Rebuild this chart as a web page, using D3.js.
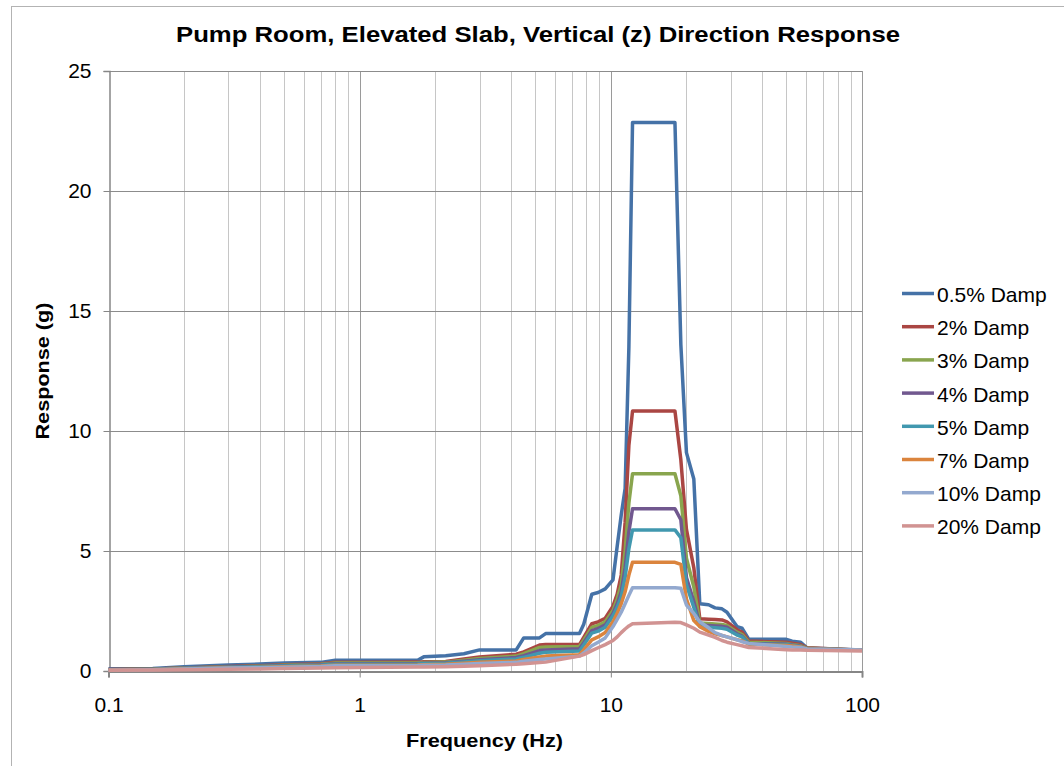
<!DOCTYPE html>
<html>
<head>
<meta charset="utf-8">
<script src="https://cdn.jsdelivr.net/npm/d3@7"></script>
<style>
  html, body { margin: 0; padding: 0; background: #ffffff; }
  svg { display: block; font-family: "Liberation Sans", Arial, sans-serif; }
</style>
</head>
<body>
<svg id="chart" width="1064" height="766"></svg>
<script>
// Frequency points (Hz), shared by all damping curves
const frequencies = [0.1, 0.15, 0.2, 0.3, 0.4, 0.5, 0.7, 0.8, 1.0, 1.7, 1.8, 2.2, 2.6, 3.0,
  4.2, 4.5, 5.2, 5.5, 7.5, 7.8, 8.4, 8.9, 9.5, 10.2, 10.6, 11.0, 11.4, 11.8, 12.2,
  18.0, 19.0, 20.0, 21.4, 22.6, 24.5, 26.0, 27.7, 29.0, 31.8, 33.3, 35.4, 50.0, 52.7, 57.0, 60.5, 100];

// Spectral acceleration (g) per damping ratio
const damp05 = [0.09, 0.10, 0.18, 0.25, 0.29, 0.33, 0.36, 0.45, 0.45, 0.45, 0.59, 0.64, 0.72, 0.88,
  0.88, 1.38, 1.38, 1.56, 1.56, 1.95, 3.20, 3.27, 3.42, 3.80, 5.20, 6.50, 7.60, 13.5, 22.85,
  22.85, 13.6, 9.10, 8.00, 2.80, 2.76, 2.63, 2.59, 2.45, 1.85, 1.78, 1.33, 1.32, 1.24, 1.20, 0.96, 0.87];
const damp2 = [0.06, 0.08, 0.13, 0.19, 0.22, 0.26, 0.30, 0.36, 0.36, 0.37, 0.39, 0.40, 0.50, 0.58,
  0.70, 0.80, 1.08, 1.10, 1.10, 1.40, 1.97, 2.05, 2.20, 2.70, 3.20, 4.00, 6.20, 9.40, 10.83,
  10.83, 8.80, 5.90, 4.30, 2.18, 2.16, 2.15, 2.13, 2.05, 1.72, 1.62, 1.25, 1.20, 1.16, 1.10, 0.97, 0.86];
const damp3 = [0.05, 0.07, 0.12, 0.17, 0.20, 0.24, 0.28, 0.33, 0.33, 0.34, 0.35, 0.37, 0.45, 0.52,
  0.62, 0.72, 0.98, 1.00, 1.02, 1.28, 1.82, 1.90, 2.05, 2.52, 3.00, 3.60, 5.00, 7.00, 8.22,
  8.22, 7.30, 4.70, 3.50, 2.00, 1.98, 1.96, 1.94, 1.90, 1.62, 1.52, 1.20, 1.15, 1.10, 1.05, 0.95, 0.86];
const damp4 = [0.05, 0.06, 0.11, 0.16, 0.19, 0.22, 0.26, 0.30, 0.30, 0.31, 0.32, 0.34, 0.41, 0.47,
  0.56, 0.64, 0.85, 0.88, 0.93, 1.18, 1.68, 1.77, 1.92, 2.40, 2.80, 3.30, 4.30, 5.80, 6.76,
  6.76, 6.30, 3.90, 2.90, 1.92, 1.90, 1.88, 1.86, 1.82, 1.55, 1.45, 1.15, 1.12, 1.08, 1.03, 0.93, 0.86];
const damp5 = [0.04, 0.06, 0.10, 0.15, 0.18, 0.21, 0.24, 0.28, 0.28, 0.29, 0.30, 0.32, 0.38, 0.43,
  0.50, 0.57, 0.74, 0.78, 0.83, 1.08, 1.58, 1.66, 1.82, 2.30, 2.65, 3.10, 3.90, 5.10, 5.88,
  5.88, 5.55, 3.60, 2.65, 1.85, 1.82, 1.80, 1.78, 1.74, 1.50, 1.42, 1.12, 1.10, 1.06, 1.02, 0.92, 0.86];
const damp7 = [0.04, 0.05, 0.09, 0.13, 0.15, 0.18, 0.21, 0.24, 0.24, 0.25, 0.26, 0.28, 0.32, 0.36,
  0.42, 0.48, 0.58, 0.62, 0.68, 0.88, 1.30, 1.42, 1.60, 2.05, 2.40, 2.80, 3.30, 4.00, 4.53,
  4.53, 4.44, 3.00, 2.10, 1.85, 1.65, 1.55, 1.48, 1.42, 1.30, 1.26, 1.12, 1.06, 1.04, 1.00, 0.92, 0.86];
const damp10 = [0.03, 0.05, 0.08, 0.12, 0.14, 0.16, 0.19, 0.22, 0.22, 0.23, 0.24, 0.25, 0.28, 0.31,
  0.36, 0.41, 0.48, 0.50, 0.62, 0.75, 1.05, 1.20, 1.38, 1.85, 2.15, 2.45, 2.80, 3.15, 3.47,
  3.47, 3.45, 2.75, 2.40, 2.05, 1.80, 1.60, 1.48, 1.42, 1.30, 1.22, 1.15, 1.02, 1.00, 0.98, 0.92, 0.88];
const damp20 = [0.03, 0.04, 0.05, 0.07, 0.08, 0.10, 0.12, 0.14, 0.15, 0.17, 0.17, 0.18, 0.20, 0.22,
  0.28, 0.30, 0.35, 0.37, 0.62, 0.68, 0.85, 0.97, 1.10, 1.27, 1.42, 1.60, 1.75, 1.88, 1.97,
  2.03, 2.02, 1.92, 1.78, 1.62, 1.50, 1.40, 1.27, 1.20, 1.10, 1.05, 0.98, 0.89, 0.88, 0.87, 0.86, 0.83];

const seriesNames = ["0.5% Damp", "2% Damp", "3% Damp", "4% Damp", "5% Damp", "7% Damp", "10% Damp", "20% Damp"];
const seriesValues = [damp05, damp2, damp3, damp4, damp5, damp7, damp10, damp20];
const seriesColors = ["#4572a7", "#aa4643", "#89a54e", "#71588f", "#4198af", "#db843d", "#93a9cf", "#d19392"];

const xTicks = [0.1, 1, 10, 100];
const xTickLabels = ["0.1", "1", "10", "100"];
const yTicks = [0, 5, 10, 15, 20, 25];

const titleText = "Pump Room, Elevated Slab, Vertical (z) Direction Response";
const xTitle = "Frequency (Hz)";
const yTitle = "Response (g)";

const svg = d3.select("#chart");
const plot = { left: 108.5, right: 862, top: 71, bottom: 671 };

const x = d3.scaleLog().domain([0.1, 100]).range([plot.left, plot.right]);
const y = d3.scaleLinear().domain([0, 25]).range([plot.bottom, plot.top]);

// chart frame
svg.append("rect")
  .attr("x", 11.5).attr("y", 6.5).attr("width", 1070).attr("height", 780)
  .attr("fill", "#ffffff").attr("stroke", "#b3b3b3").attr("stroke-width", 1);

// title
svg.append("text")
  .attr("x", 538).attr("y", 41.5)
  .attr("text-anchor", "middle")
  .attr("font-size", 22).attr("font-weight", "bold").attr("fill", "#000")
  .attr("textLength", 724).attr("lengthAdjust", "spacingAndGlyphs")
  .text(titleText);

// minor vertical gridlines (2..9 within each decade)
const minorX = [];
for (let d = 0.1; d < 100; d *= 10) {
  for (let k = 2; k <= 9; k++) minorX.push(d * k);
}
svg.append("g").selectAll("line").data(minorX).join("line")
  .attr("x1", d => Math.round(x(d)) + 0.5).attr("x2", d => Math.round(x(d)) + 0.5)
  .attr("y1", plot.top).attr("y2", plot.bottom)
  .attr("stroke", "#c6c6c6").attr("stroke-width", 1);

// major vertical gridlines
svg.append("g").selectAll("line").data(xTicks.slice(1)).join("line")
  .attr("x1", d => Math.round(x(d)) + 0.5).attr("x2", d => Math.round(x(d)) + 0.5)
  .attr("y1", plot.top).attr("y2", plot.bottom)
  .attr("stroke", "#9a9a9a").attr("stroke-width", 1);

// horizontal gridlines
svg.append("g").selectAll("line").data(yTicks.slice(1)).join("line")
  .attr("x1", plot.left).attr("x2", plot.right)
  .attr("y1", d => Math.round(y(d)) + 0.5).attr("y2", d => Math.round(y(d)) + 0.5)
  .attr("stroke", "#8c8c8c").attr("stroke-width", 1);

// y axis
const yAxis = d3.axisLeft(y).tickValues(yTicks).tickSize(6).tickPadding(12);
const gy = svg.append("g").attr("transform", `translate(${Math.round(plot.left) + 0.5},0)`).call(yAxis);
gy.select(".domain").attr("stroke", "#868686").attr("stroke-width", 1.5);
gy.selectAll(".tick line").attr("stroke", "#868686");
gy.selectAll(".tick text").attr("font-size", 21).attr("fill", "#000")
  .attr("font-family", "Liberation Sans, Arial, sans-serif");

// x axis
const xAxis = d3.axisBottom(x).tickValues(xTicks).tickFormat((d, i) => xTickLabels[i])
  .tickSize(6).tickPadding(20);
const gx = svg.append("g").attr("transform", `translate(0,${Math.round(plot.bottom) + 0.5})`).call(xAxis);
gx.select(".domain").attr("stroke", "#868686").attr("stroke-width", 2);
gx.selectAll(".tick line").attr("stroke", "#868686");
gx.selectAll(".tick text").attr("font-size", 21).attr("fill", "#000")
  .attr("font-family", "Liberation Sans, Arial, sans-serif");

// axis titles
svg.append("text")
  .attr("x", 484.5).attr("y", 747)
  .attr("text-anchor", "middle")
  .attr("font-size", 19).attr("font-weight", "bold")
  .attr("textLength", 157).attr("lengthAdjust", "spacingAndGlyphs")
  .text(xTitle);

svg.append("text")
  .attr("transform", "translate(49,371) rotate(-90)")
  .attr("text-anchor", "middle")
  .attr("font-size", 19).attr("font-weight", "bold")
  .attr("textLength", 137).attr("lengthAdjust", "spacingAndGlyphs")
  .text(yTitle);

// response curves
const line = d3.line()
  .x((d, i) => x(frequencies[i]))
  .y(d => y(d));

svg.append("g").selectAll("path").data(seriesValues).join("path")
  .attr("d", d => line(d))
  .attr("fill", "none")
  .attr("stroke", (d, i) => seriesColors[i])
  .attr("stroke-width", 3.5)
  .attr("stroke-linejoin", "round");

// legend
const legend = svg.append("g").attr("transform", "translate(902,293.5)");
const items = legend.selectAll("g").data(seriesNames).join("g")
  .attr("transform", (d, i) => `translate(0,${i * 33.2})`);
items.append("line")
  .attr("x1", 0).attr("x2", 32).attr("y1", 0).attr("y2", 0)
  .attr("stroke", (d, i) => seriesColors[i]).attr("stroke-width", 3.5);
items.append("text")
  .attr("x", 35).attr("y", 8.5)
  .attr("font-size", 21).attr("fill", "#000")
  .text(d => d);
</script>
</body>
</html>
